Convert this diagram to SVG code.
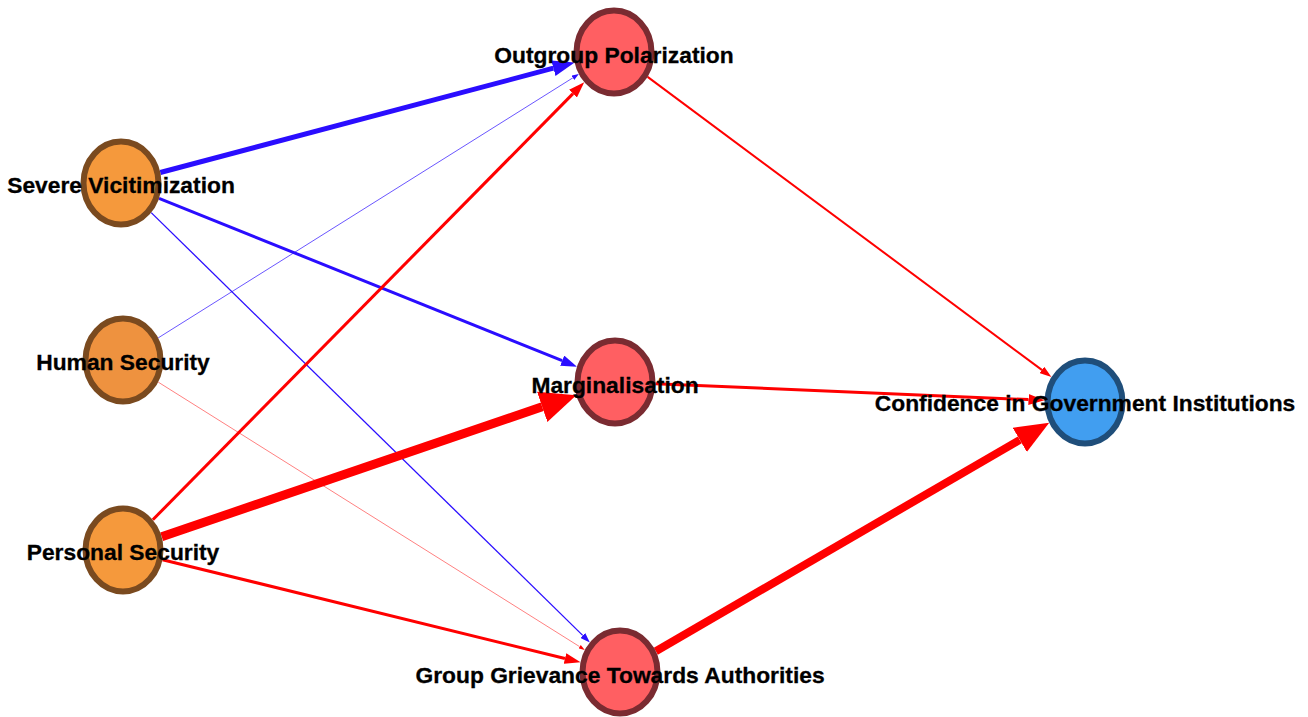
<svg xmlns="http://www.w3.org/2000/svg" width="1308" height="717" viewBox="0 0 1308 717">
<style>
.lbl{font-family:"Liberation Sans",Arial,sans-serif;font-weight:bold;font-size:22.8px;fill:#000;stroke:#000;stroke-width:0.3;text-anchor:middle}
.src{fill:#F5993C;stroke:#7A4A1F;stroke-width:6}
.med{fill:#FF5F62;stroke:#7A2B31;stroke-width:6}
.out{fill:#419EF0;stroke:#1F4E7A;stroke-width:6}
.b{stroke:#2A0DFF;fill:none}
.r{stroke:#FF0000;fill:none}
</style>
<defs>
<marker id="b22" markerUnits="userSpaceOnUse" markerWidth="22" markerHeight="16" refX="0" refY="8" orient="auto" viewBox="0 0 22 16"><path d="M0,0 L22,8 L0,16 z" fill="#2A0DFF"/></marker>
<marker id="b16" markerUnits="userSpaceOnUse" markerWidth="16" markerHeight="11" refX="0" refY="5.5" orient="auto" viewBox="0 0 16 11"><path d="M0,0 L16,5.5 L0,11 z" fill="#2A0DFF"/></marker>
<marker id="b10" markerUnits="userSpaceOnUse" markerWidth="10" markerHeight="7" refX="0" refY="3.5" orient="auto" viewBox="0 0 10 7"><path d="M0,0 L10,3.5 L0,7 z" fill="#2A0DFF"/></marker>
<marker id="b7" markerUnits="userSpaceOnUse" markerWidth="7" markerHeight="5" refX="0" refY="2.5" orient="auto" viewBox="0 0 7 5"><path d="M0,0 L7,2.5 L0,5 z" fill="#2A0DFF"/></marker>
<marker id="r36" markerUnits="userSpaceOnUse" markerWidth="36" markerHeight="32" refX="0" refY="16" orient="auto" viewBox="0 0 36 32"><path d="M0,0 L36,16 L0,32 z" fill="#FF0000"/></marker>
<marker id="r34" markerUnits="userSpaceOnUse" markerWidth="34" markerHeight="28" refX="0" refY="14" orient="auto" viewBox="0 0 34 28"><path d="M0,0 L34,14 L0,28 z" fill="#FF0000"/></marker>
<marker id="r16" markerUnits="userSpaceOnUse" markerWidth="16" markerHeight="11" refX="0" refY="5.5" orient="auto" viewBox="0 0 16 11"><path d="M0,0 L16,5.5 L0,11 z" fill="#FF0000"/></marker>
<marker id="r12" markerUnits="userSpaceOnUse" markerWidth="12" markerHeight="8" refX="0" refY="4" orient="auto" viewBox="0 0 12 8"><path d="M0,0 L12,4 L0,8 z" fill="#FF0000"/></marker>
<marker id="r6" markerUnits="userSpaceOnUse" markerWidth="6" markerHeight="4" refX="0" refY="2" orient="auto" viewBox="0 0 6 4"><path d="M0,0 L6,2 L0,4 z" fill="#FF0000"/></marker>
</defs>
<rect width="1308" height="717" fill="#FFFFFF"/>
<g id="connectors">
<line class="b" x1="160.3" y1="172.5" x2="553.4" y2="68.2" stroke-width="5" marker-end="url(#b22)"/>
<line class="b" x1="159.0" y1="198.3" x2="562.2" y2="360.7" stroke-width="3" marker-end="url(#b16)"/>
<line class="b" x1="151.2" y1="212.6" x2="582.7" y2="635.4" stroke-width="1.3" marker-end="url(#b10)"/>
<line class="b" x1="158.2" y1="337.9" x2="572.9" y2="77.8" stroke-width="0.7" marker-end="url(#b7)"/>
<line class="r" x1="158.2" y1="382.1" x2="579.7" y2="646.7" stroke-width="0.5" marker-end="url(#r6)"/>
<line class="r" x1="152.8" y1="519.8" x2="573.0" y2="93.6" stroke-width="3" marker-end="url(#r16)"/>
<line class="r" x1="161.7" y1="536.8" x2="542.2" y2="406.8" stroke-width="9" marker-end="url(#r36)"/>
<line class="r" x1="162.5" y1="559.7" x2="565.0" y2="658.5" stroke-width="3" marker-end="url(#r16)"/>
<line class="r" x1="647.6" y1="76.9" x2="1041.8" y2="369.9" stroke-width="2" marker-end="url(#r12)"/>
<line class="r" x1="655.5" y1="383.7" x2="1028.5" y2="399.6" stroke-width="3" marker-end="url(#r16)"/>
<line class="r" x1="655.8" y1="651.2" x2="1019.8" y2="439.9" stroke-width="8" marker-end="url(#r34)"/>
</g>
<g id="severe-vicitimization"><ellipse class="src" cx="121" cy="183" rx="37.5" ry="41.5"/><text class="lbl" x="121" y="193">Severe Vicitimization</text></g>
<g id="human-security"><ellipse class="src" cx="123" cy="360" rx="37.5" ry="41.5" style="fill:#EE923F"/><text class="lbl" x="123" y="370">Human Security</text></g>
<g id="personal-security"><ellipse class="src" cx="123" cy="550" rx="37.5" ry="41.5"/><text class="lbl" x="123" y="560">Personal Security</text></g>
<g id="outgroup-polarization"><ellipse class="med" cx="614" cy="52" rx="37.5" ry="41.5"/><text class="lbl" x="614" y="63">Outgroup Polarization</text></g>
<g id="marginalisation"><ellipse class="med" cx="615" cy="382" rx="37.5" ry="41.5"/><text class="lbl" x="615" y="393">Marginalisation</text></g>
<g id="group-grievance"><ellipse class="med" cx="620" cy="672" rx="37.5" ry="41.5"/><text class="lbl" x="620" y="683">Group Grievance Towards Authorities</text></g>
<g id="confidence-government"><ellipse class="out" cx="1085" cy="402" rx="37.5" ry="41.5"/><text class="lbl" x="1085" y="411">Confidence in Government Institutions</text></g>
</svg>
